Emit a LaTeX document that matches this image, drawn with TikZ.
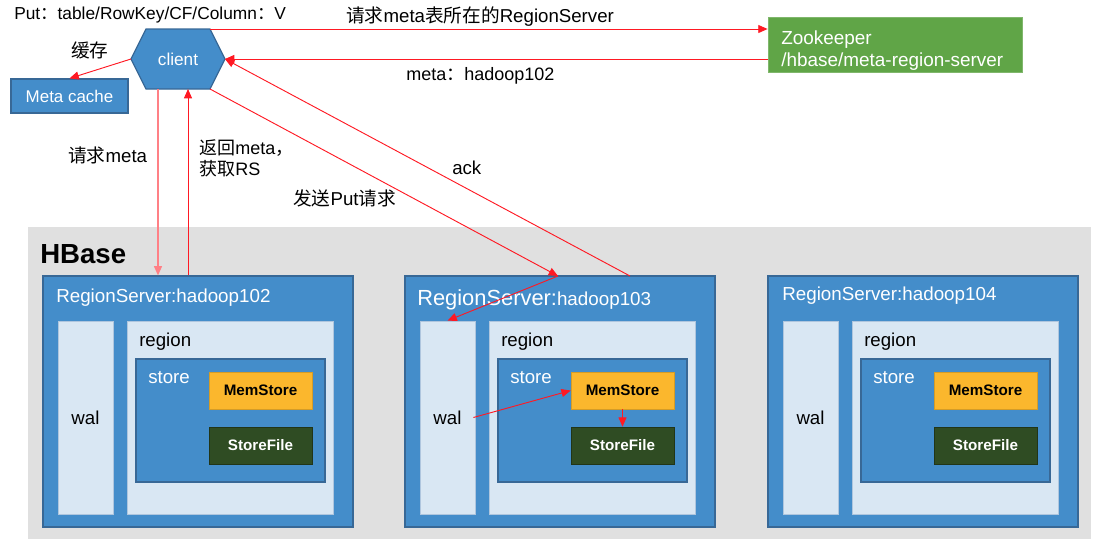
\documentclass[tikz,border=0pt]{standalone}
\usepackage{fontspec}
\setmainfont{Liberation Sans}
\newfontfamily\cjk{Noto Sans CJK SC}
\usetikzlibrary{fit,arrows.meta}
\definecolor{rsblue}{RGB}{68,141,202}
\definecolor{rsborder}{RGB}{56,104,150}
\definecolor{light}{RGB}{217,231,243}
\definecolor{lightborder}{RGB}{175,198,222}
\definecolor{mem}{RGB}{251,183,45}
\definecolor{sfile}{RGB}{47,76,35}
\definecolor{zkgreen}{RGB}{96,165,71}
\definecolor{hgray}{RGB}{224,224,224}
\definecolor{arr}{RGB}{255,25,35}
\begin{document}
\begin{tikzpicture}[x=0.75pt,y=-0.75pt,
  every node/.style={inner sep=0},
  rsbox/.style={fill=rsblue, draw=rsborder, line width=0.9pt},
  lbox/.style={fill=light, draw=lightborder, line width=0.6pt},
  membox/.style={fill=mem, draw=mem!85!black, line width=0.4pt},
  sfbox/.style={fill=sfile, draw=sfile!70!black, line width=0.4pt},
  boldlbl/.style={font=\fontsize{11.4}{13}\selectfont\bfseries},
  lbl/.style={font=\fontsize{14}{16}\selectfont},
  conn/.style={draw=arr, line width=0.7pt, -{Triangle[length=7pt,width=6pt]}}
]
\useasboundingbox (0,0) rectangle (1100,550);

% HBase area
\node[fit={(28,227)(1091,539)}, fill=hgray] (hbase) {};
\node[anchor=base west, font=\fontsize{20.7}{24}\selectfont\bfseries] (hbaselbl) at (40,263) {HBase};

% region servers
\foreach \n/\x in {102/43, 103/405, 104/768} {
  \node[fit={(\x,276)(\x+310,527)}, rsbox] (rs\n) {};
  \node[fit={(\x+15,321)(\x+70,514)}, lbox] (wal\n) {};
  \node[lbl] (wallbl\n) at (wal\n.center) {wal};
  \node[fit={(\x+84,321)(\x+290,514)}, lbox] (region\n) {};
  \node[lbl, anchor=base west] (regionlbl\n) at (\x+96,346) {region};
  \node[fit={(\x+93,359)(\x+282,482)}, rsbox] (store\n) {};
  \node[lbl, anchor=base west, text=white] (storelbl\n) at (\x+105,383) {store};
  \node[fit={(\x+166,372)(\x+269,409)}, membox] (mem\n) {};
  \node[boldlbl] (memlbl\n) at (mem\n.center) {MemStore};
  \node[fit={(\x+166,427)(\x+269,464)}, sfbox] (sf\n) {};
  \node[boldlbl, text=white] (sflbl\n) at (sf\n.center) {StoreFile};
}
\node[anchor=base west, text=white, font=\fontsize{14.1}{16}\selectfont] (rstitle102) at (56,302) {RegionServer:hadoop102};
\node[anchor=base west, text=white, font=\fontsize{14.1}{16}\selectfont] (rstitle103) at (417,305) {{\fontsize{16.4}{18}\selectfont RegionServer:}hadoop103};
\node[anchor=base west, text=white, font=\fontsize{14.1}{16}\selectfont] (rstitle104) at (782,300) {RegionServer:hadoop104};

% top labels
\node[anchor=base west, font=\fontsize{13}{15}\selectfont] (putlbl) at (14,19.5) {Put{\cjk ：}table/RowKey/CF/Column{\cjk ：}V};
\node[lbl, anchor=west] (cachelbl) at (71,50) {\cjk 缓存};

% client hexagon
\coordinate (cl-w) at (131,59);
\coordinate (cl-nw) at (146,29);
\coordinate (cl-ne) at (210,29);
\coordinate (cl-e) at (225,59);
\coordinate (cl-se) at (210,89);
\coordinate (cl-sw) at (146,89);
\draw[rsbox] (cl-w) -- (cl-nw) -- (cl-ne) -- (cl-e) -- (cl-se) -- (cl-sw) -- cycle;
\node[text=white, font=\fontsize{12.9}{14}\selectfont] (client) at (178,59) {client};

% Meta cache
\node[fit={(11,79)(128,113)}, rsbox] (metacache) {};
\node[text=white, font=\fontsize{12.7}{14}\selectfont] (metacachelbl) at (metacache.center) {Meta cache};

% Zookeeper
\node[fit={(768,17)(1022,72)}, fill=zkgreen, draw=zkgreen!80!white, line width=0.6pt] (zk) {};
\node[anchor=base west, text=white, font=\fontsize{14.2}{16.5}\selectfont] (zklbl1) at (781,44) {Zookeeper};
\node[anchor=base west, text=white, font=\fontsize{14.2}{16.5}\selectfont] (zklbl2) at (781,66) {/hbase/meta-region-server};

% edge labels
\node[lbl, anchor=west] (reqzk) at (346,17) {{\cjk 请求}meta{\cjk 表所在的}RegionServer};
\node[lbl, anchor=west, font=\fontsize{13.5}{15}\selectfont] (metaret) at (406,76) {meta{\cjk ：}hadoop102};
\node[lbl, anchor=west] (reqmeta) at (68,155) {{\cjk 请求}meta};
\node[lbl, anchor=west, align=left, font=\fontsize{13.5}{15.75}\selectfont] (retmeta) at (199,158.5) {{\cjk 返回}meta{\cjk ，}\\{\cjk 获取}RS};
\node[lbl, anchor=west] (sendput) at (293,198) {{\cjk 发送}Put{\cjk 请求}};
\node[lbl, anchor=west] (acklbl) at (452,168) {ack};

% connectors
\coordinate (q1) at (158,89);
\coordinate (q2) at (188,89);
\coordinate (p103) at (558,276);
\coordinate (a103) at (630,276);
\draw[conn] (cl-w) -- (metacache.north);
\draw[conn] (cl-ne) -- (zk.west |- cl-ne);
\draw[conn] (zk.west |- cl-e) -- (cl-e);
\draw[conn, draw=arr!55, line width=1pt] (q1) -- (q1 |- rs102.north);
\draw[conn] (q2 |- rs102.north) -- (q2);
\draw[conn] (cl-se) -- (p103);
\draw[conn] (a103) -- (cl-e);
\draw[conn] (p103) -- (wal103.north);
\draw[conn] ([xshift=-1.5pt]wal103.east) -- (mem103.west);
\draw[conn] (mem103.south) -- (sf103.north);
\end{tikzpicture}
\end{document}
